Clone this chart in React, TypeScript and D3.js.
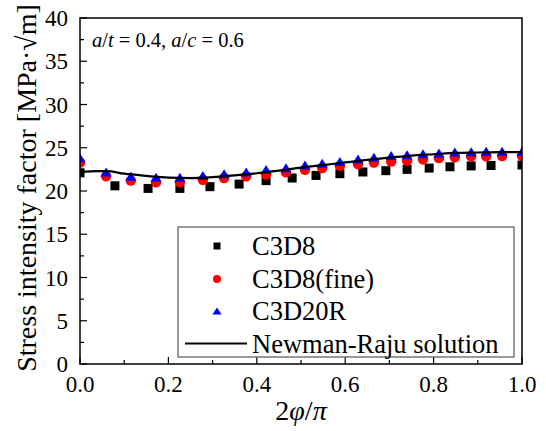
import React from "react";
import * as d3 from "d3";

const W = 546;
const H = 431;

// C3D8 (black squares)
const sqX = [0, 0.079, 0.154, 0.226, 0.294, 0.36, 0.421, 0.48, 0.534, 0.588, 0.64, 0.692, 0.74, 0.79, 0.837, 0.885, 0.93, 1.0];
const sqY = [22.1, 20.6, 20.3, 20.3, 20.5, 20.8, 21.2, 21.5, 21.8, 22.0, 22.2, 22.35, 22.5, 22.65, 22.8, 22.9, 22.95, 23.0];

// C3D8(fine) and C3D20R share node positions
const fineX = [0, 0.059, 0.115, 0.172, 0.226, 0.278, 0.326, 0.376, 0.421, 0.466, 0.509, 0.548, 0.588, 0.629, 0.665, 0.704, 0.74, 0.776, 0.812, 0.848, 0.885, 0.919, 0.955, 1.0];
const fineY = [23.3, 21.7, 21.2, 21.0, 21.0, 21.3, 21.5, 21.7, 21.9, 22.15, 22.45, 22.65, 22.9, 23.1, 23.3, 23.4, 23.5, 23.65, 23.8, 23.9, 24.0, 24.0, 24.05, 24.05];
const c20Y = [23.85, 22.2, 21.7, 21.6, 21.6, 21.8, 22.0, 22.2, 22.5, 22.7, 23.0, 23.2, 23.4, 23.7, 23.9, 24.1, 24.2, 24.3, 24.4, 24.5, 24.55, 24.6, 24.6, 24.6];

// Newman-Raju solution
const nrX = [0, 0.04, 0.06, 0.1, 0.15, 0.2, 0.25, 0.3, 0.35, 0.4, 0.45, 0.5, 0.55, 0.6, 0.65, 0.7, 0.75, 0.8, 0.85, 0.9, 0.95, 1.0];
const nrY = [22.2, 22.3, 22.3, 22.0, 21.75, 21.55, 21.5, 21.6, 21.8, 22.05, 22.35, 22.7, 23.0, 23.3, 23.6, 23.85, 24.1, 24.25, 24.4, 24.45, 24.5, 24.5];

const xTicks = [0, 0.2, 0.4, 0.6, 0.8, 1.0];
const xMinor = [0.1, 0.3, 0.5, 0.7, 0.9];
const yTicks = [0, 5, 10, 15, 20, 25, 30, 35, 40];
const yMinor = [2.5, 7.5, 12.5, 17.5, 22.5, 27.5, 32.5, 37.5];

const legendLabels = ["C3D8", "C3D8(fine)", "C3D20R", "Newman-Raju solution"];

const FONT = "Liberation Serif, Times New Roman, serif";

function tri(cx: number, cy: number, w: number, h: number) {
  return `M${cx},${cy - h / 2}L${cx + w / 2},${cy + h / 2}L${cx - w / 2},${cy + h / 2}Z`;
}

export default function App() {
  const L = 80, R = 522, T = 18, B = 364;
  const x = d3.scaleLinear().domain([0, 1]).range([L, R]);
  const y = d3.scaleLinear().domain([0, 40]).range([B, T]);
  const line = d3.line<number>().x((_, i) => x(nrX[i])).y((d) => y(d)).curve(d3.curveMonotoneX);

  const legY = [246, 279, 311, 343.5];

  return (
    <svg width={W} height={H} style={{ position: "absolute", left: 0, top: 0, background: "#fff", fontFamily: FONT }}>
      <defs>
        <clipPath id="plot">
          <rect x={L} y={T} width={R - L} height={B - T} />
        </clipPath>
      </defs>
      <rect x={0} y={0} width={W} height={H} fill="#fff" />

      {/* ticks */}
      {xTicks.map((t) => (
        <line key={"xt" + t} x1={x(t)} x2={x(t)} y1={B} y2={B - 7} stroke="#000" strokeWidth={1.2} />
      ))}
      {xMinor.map((t) => (
        <line key={"xm" + t} x1={x(t)} x2={x(t)} y1={B} y2={B - 4} stroke="#000" strokeWidth={1.2} />
      ))}
      {yTicks.map((t) => (
        <line key={"yt" + t} x1={L} x2={L + 7} y1={y(t)} y2={y(t)} stroke="#000" strokeWidth={1.2} />
      ))}
      {yMinor.map((t) => (
        <line key={"ym" + t} x1={L} x2={L + 4} y1={y(t)} y2={y(t)} stroke="#000" strokeWidth={1.2} />
      ))}

      {/* tick labels */}
      {xTicks.map((t) => (
        <text key={"xl" + t} x={x(t)} y={392} fontSize={23} textAnchor="middle">
          {d3.format(".1f")(t)}
        </text>
      ))}
      {yTicks.map((t) => (
        <text key={"yl" + t} x={68} y={y(t)} dy="0.35em" fontSize={23} textAnchor="end">
          {t}
        </text>
      ))}

      {/* data */}
      <g clipPath="url(#plot)">
        {sqX.map((v, i) => (
          <rect key={"s" + i} x={x(v) - 4.5} y={y(sqY[i]) - 4.5} width={9} height={9} fill="#000" />
        ))}
        {fineX.map((v, i) => (
          <circle key={"c" + i} cx={x(v)} cy={y(fineY[i])} r={5.2} fill="#ff0000" />
        ))}
        {fineX.map((v, i) => (
          <path key={"t" + i} d={tri(x(v), y(c20Y[i]), 11, 9)} fill="#0000ff" />
        ))}
        <path d={line(nrY) || ""} fill="none" stroke="#000" strokeWidth={2.2} />
      </g>

      {/* frame */}
      <rect x={L} y={T} width={R - L} height={B - T} fill="none" stroke="#000" strokeWidth={1.5} />

      {/* annotation */}
      <text x={92} y={47} fontSize={20.5}>
        <tspan fontStyle="italic">a</tspan>/<tspan fontStyle="italic">t</tspan> = 0.4, <tspan fontStyle="italic">a</tspan>/<tspan fontStyle="italic">c</tspan> = 0.6
      </text>

      {/* legend */}
      <rect x={178} y={227} width={336} height={130} fill="#fff" stroke="#555" strokeWidth={1.2} />
      <rect x={217 - 3.5} y={legY[0] - 3.5} width={7} height={7} fill="#000" />
      <circle cx={217} cy={legY[1]} r={4} fill="#ff0000" />
      <path d={tri(217, legY[2], 9, 7)} fill="#0000ff" />
      <line x1={185} x2={247} y1={legY[3]} y2={legY[3]} stroke="#000" strokeWidth={2.2} />
      {legendLabels.map((s, i) => (
        <text key={s} x={252} y={legY[i]} dy="0.35em" fontSize={26.5}>
          {s}
        </text>
      ))}

      {/* axis titles */}
      <text x={301} y={420} fontSize={28} textAnchor="middle">
        2<tspan fontStyle="italic">φ</tspan>/<tspan fontStyle="italic">π</tspan>
      </text>
      <text transform={`translate(36,${188}) rotate(-90)`} fontSize={28} textAnchor="middle">
        Stress intensity factor [MPa·√m]
      </text>
    </svg>
  );
}
